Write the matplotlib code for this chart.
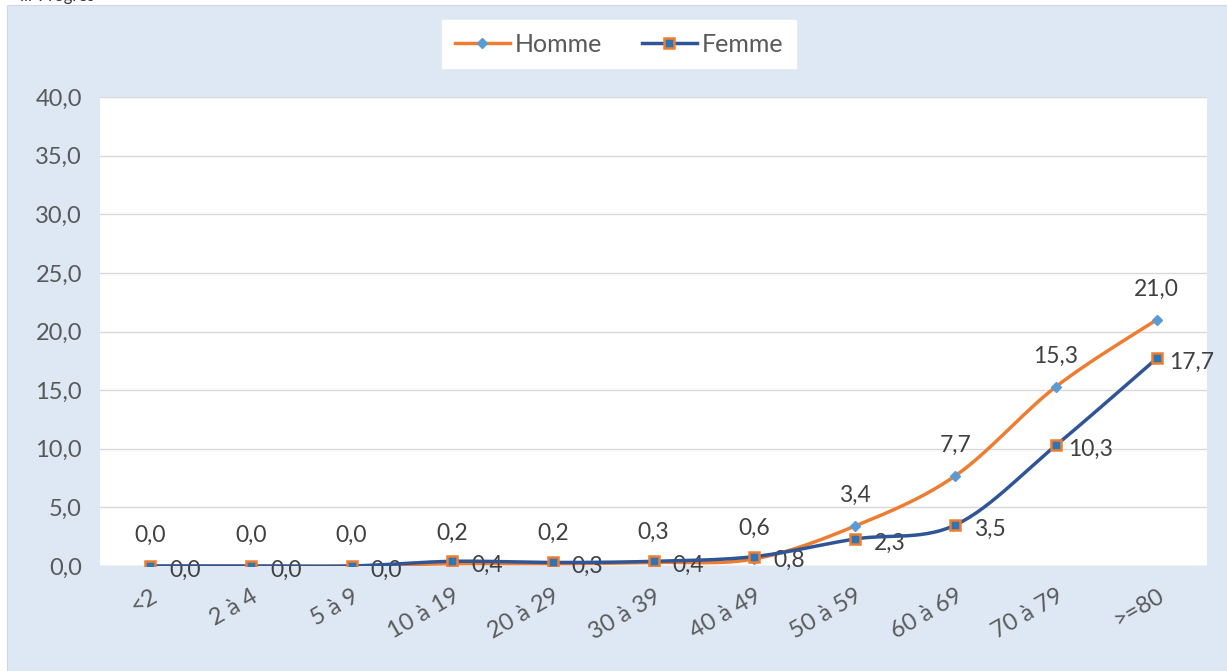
import matplotlib.pyplot as plt
import numpy as np
from matplotlib.patches import Rectangle

categories = ['<2', '2 à 4', '5 à 9', '10 à 19', '20 à 29', '30 à 39',
              '40 à 49', '50 à 59', '60 à 69', '70 à 79', '>=80']
homme = [0.0, 0.0, 0.0, 0.2, 0.2, 0.3, 0.6, 3.4, 7.7, 15.3, 21.0]
femme = [0.0, 0.0, 0.0, 0.4, 0.3, 0.4, 0.8, 2.3, 3.5, 10.3, 17.7]

GREY = '#595959'
plt.rcParams['font.family'] = ['Lato', 'DejaVu Sans']


def smooth(x, y, n=30):
    # Catmull-Rom style smoothing, like the "smoothed line" option of office charts
    x = np.asarray(x, float)
    y = np.asarray(y, float)
    px = np.concatenate([[x[0]], x, [x[-1]]])
    py = np.concatenate([[y[0]], y, [y[-1]]])
    xs, ys = [], []
    t = np.linspace(0, 1, n)
    for i in range(1, len(px) - 2):
        p0, p1, p2, p3 = [np.array([px[j], py[j]]) for j in (i - 1, i, i + 1, i + 2)]
        c1 = p1 + (p2 - p0) / 6
        c2 = p2 - (p3 - p1) / 6
        b = ((1 - t) ** 3)[:, None] * p1 + (3 * (1 - t) ** 2 * t)[:, None] * c1 \
            + (3 * (1 - t) * t ** 2)[:, None] * c2 + (t ** 3)[:, None] * p2
        xs.extend(b[:, 0])
        ys.extend(b[:, 1])
    return np.array(xs), np.array(ys)


fig = plt.figure(figsize=(12.27, 6.71), dpi=100)
fig.patch.set_facecolor('white')
W, H = 1227, 671
fig.patches.append(Rectangle((7 / W, 0), 1 - 7 / W, 1 - 5 / H, transform=fig.transFigure,
                             facecolor='#DDE8F4', edgecolor='#D0D8E0', lw=0.8, zorder=-5))
fig.text(20 / W, 1 + 4 / H, 'ilr Progrès', fontsize=12, color='#333333', va='center')

ax = fig.add_axes([100 / W, 105 / H, 1107 / W, 469 / H])
ax.set_facecolor('white')
x = np.arange(len(categories))

hx, hy = smooth(x, homme)
fx, fy = smooth(x, femme)
ax.plot(hx, hy, color='#ED7D31', lw=2.5, zorder=3)
ax.plot(fx, fy, color='#2F5597', lw=2.5, zorder=4)
ax.plot(x, homme, ls='none', marker='D', ms=5, color='#5B9BD5', zorder=5)
ax.plot(x, femme, ls='none', marker='s', ms=7, mfc='#2E75B6', mec='#ED7D31', mew=1.8, zorder=6)

for i in x:
    ax.annotate(f'{homme[i]:.1f}'.replace('.', ','), (i, homme[i]), xytext=(0, 22),
                textcoords='offset points', ha='center', va='center', fontsize=16.5, color='#404040')
    ax.annotate(f'{femme[i]:.1f}'.replace('.', ','), (i, femme[i]), xytext=(25, -3),
                textcoords='offset points', ha='center', va='center', fontsize=16.5, color='#404040')

ax.set_xlim(-0.5, len(categories) - 0.5)
ax.set_ylim(0, 40)
ax.set_yticks(np.arange(0, 41, 5))
ax.set_yticklabels([f'{v:.1f}'.replace('.', ',') for v in np.arange(0, 41, 5)])
ax.set_xticks(x)
ax.set_xticklabels(categories, rotation=30, ha='right', rotation_mode='anchor')
ax.tick_params(axis='both', length=0, colors=GREY, labelsize=17)
ax.tick_params(axis='y', pad=13)
ax.tick_params(axis='x', pad=14)
ax.grid(axis='y', color='#D9D9D9', lw=1)
ax.set_axisbelow(True)
for s in ax.spines.values():
    s.set_visible(False)
ax.axhline(0, color='#D9D9D9', lw=1, zorder=1)

h1, = ax.plot([], [], color='#ED7D31', lw=2.5, marker='D', ms=5, mfc='#5B9BD5', mec='#5B9BD5')
h2, = ax.plot([], [], color='#2F5597', lw=2.5, marker='s', ms=7, mfc='#2E75B6', mec='#ED7D31', mew=1.8)
leg = fig.legend([h1, h2], ['Homme', 'Femme'], loc='center', bbox_to_anchor=(619 / W, 1 - 44 / H),
                 ncol=2, frameon=True, fancybox=False, framealpha=1, fontsize=18, handlelength=2.2,
                 handletextpad=0.2, columnspacing=1.6, borderpad=0.5)
leg.get_frame().set_facecolor('white')
leg.get_frame().set_edgecolor('white')
for t in leg.get_texts():
    t.set_color(GREY)

plt.savefig('out.png', dpi=100)
